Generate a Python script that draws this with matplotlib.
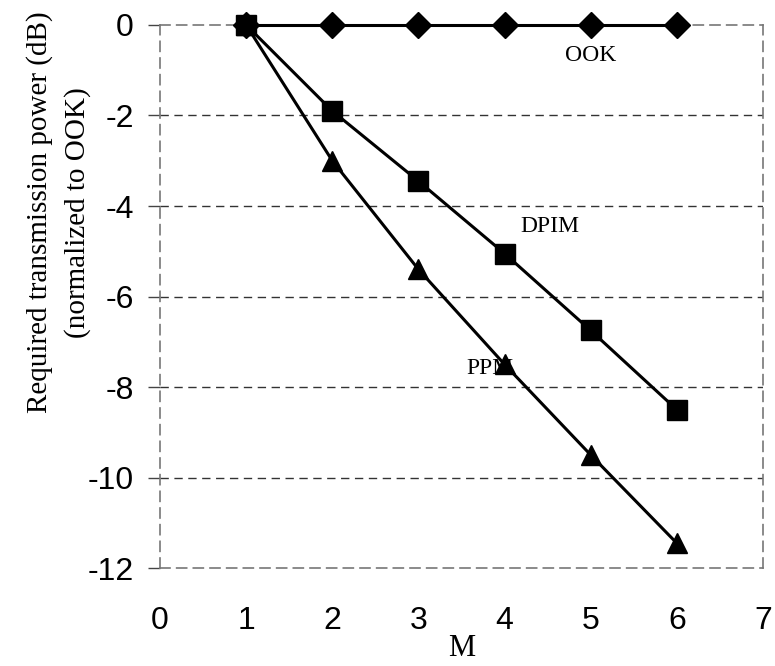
import matplotlib.pyplot as plt

M = [1, 2, 3, 4, 5, 6]
ook = [0, 0, 0, 0, 0, 0]
dpim = [0, -1.9, -3.45, -5.05, -6.75, -8.5]
ppm = [0, -3.0, -5.4, -7.5, -9.5, -11.45]

x_ticks = [0, 1, 2, 3, 4, 5, 6, 7]
y_ticks = [0, -2, -4, -6, -8, -10, -12]

serif = ["Liberation Serif", "DejaVu Serif"]
sans = ["Liberation Sans", "DejaVu Sans"]

fig = plt.figure(figsize=(7.75, 6.66), dpi=100)
ax = fig.add_axes([0.2065, 0.147, 0.778, 0.8155])

# horizontal dashed grid
for y in y_ticks[1:-1]:
    ax.axhline(y, color="#333333", lw=1.0, ls=(0, (6, 4)), zorder=1)

ax.plot(M, ook, color="black", lw=2.2, marker="D", ms=13, zorder=3, clip_on=False)
ax.plot(M, ppm, color="black", lw=2.2, marker="^", ms=15, zorder=4, clip_on=False)
ax.plot(M, dpim, color="black", lw=2.2, marker="s", ms=14, zorder=5, clip_on=False)

ax.text(5.0, -0.68, "OOK", family=serif, fontsize=17, ha="center", va="center")
ax.text(4.53, -4.45, "DPIM", family=serif, fontsize=17, ha="center", va="center")
ax.text(3.83, -7.6, "PPM", family=serif, fontsize=17, ha="center", va="center", zorder=2)

ax.set_xlim(0, 7)
ax.set_ylim(-12, 0)
ax.set_xticks(x_ticks)
ax.set_yticks(y_ticks)
ax.set_xticklabels([str(v) for v in x_ticks], family=sans, fontsize=23)
ax.set_yticklabels([str(v) for v in y_ticks], family=sans, fontsize=23)
ax.tick_params(axis="x", length=0, pad=27)
ax.tick_params(axis="y", direction="out", length=9, width=1.0, color="#444444", pad=10)

for side in ["left", "right", "top", "bottom"]:
    ax.spines[side].set_color("#777777")
    ax.spines[side].set_linestyle((0, (6, 4)))
    ax.spines[side].set_linewidth(1.2)

ax.set_xlabel("M", family=serif, fontsize=22, labelpad=-1)
ax.set_ylabel("Required transmission power (dB)\n(normalized to OOK)",
              family=serif, fontsize=21, linespacing=1.5)
ax.yaxis.set_label_coords(-0.115, 0.655)

fig.savefig("out.png", dpi=100)
